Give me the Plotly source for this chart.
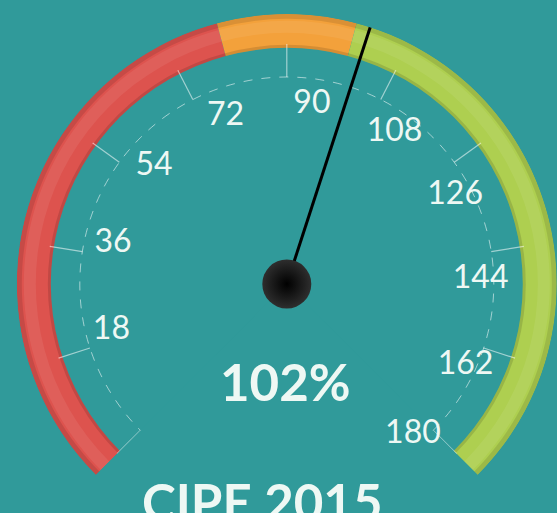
import plotly.graph_objects as go

# ---- data ----
scale_min = 0
scale_max = 180
tick_values = [0, 18, 36, 54, 72, 90, 108, 126, 144, 162, 180]
label_values = [18, 36, 54, 72, 90, 108, 126, 144, 162, 180]
band_starts = [0, 80, 100]
band_ends = [80, 100, 180]
band_colors = ["#dd534e", "#f3a13b", "#aecf50"]
needle_value = 102
title_text = "CIPE 2015"

# ---- geometry / style ----
SWEEP = 270.0
DEG_PER_UNIT = SWEEP / (scale_max - scale_min)
R_MAX = 270          # outer radius of the ring (px == radial unit)
BAND_IN = 236        # inner radius of ring
SCALE_R = 207        # dashed scale arc
TICK_OUT = 240
LABEL_R = 187
LABEL_SHIFT_DEG = 5.5
R2 = 210             # radial range of the label layer
BG = "#309a9a"
TXT = "#eef8f4"
FONT = "Lato, 'Open Sans', sans-serif"

W, H = 557, 513
cx, cy = 286.8, 284          # gauge centre (px)
lx, ly = 294, 291            # label-ring centre (px)


def th(v):
    return (v - scale_min) * DEG_PER_UNIT


centers = [th((a + b) / 2) for a, b in zip(band_starts, band_ends)]
widths = [th(b) - th(a) for a, b in zip(band_starts, band_ends)]

fig = go.Figure()

# tick marks (from the dashed arc outward, under the ring)
tick_r, tick_t = [], []
for v in tick_values:
    tick_r += [SCALE_R, TICK_OUT, None]
    tick_t += [th(v), th(v), None]
fig.add_trace(go.Scatterpolar(
    r=tick_r, theta=tick_t, mode="lines",
    line=dict(color="rgba(255,255,255,0.55)", width=1.2),
    hoverinfo="skip", showlegend=False, cliponaxis=False,
))

# colour bands
fig.add_trace(go.Barpolar(
    theta=centers, width=widths,
    r=[R_MAX - BAND_IN] * len(band_starts), base=[BAND_IN] * len(band_starts),
    marker=dict(color=band_colors, line=dict(width=0)),
    hoverinfo="skip", showlegend=False,
))
# subtle shading: darker outer edge, inner shadow, soft highlight
fig.add_trace(go.Barpolar(
    theta=centers, width=widths,
    r=[5] * len(band_starts), base=[R_MAX - 5] * len(band_starts),
    marker=dict(color="rgba(0,0,0,0.10)", line=dict(width=0)),
    hoverinfo="skip", showlegend=False,
))
fig.add_trace(go.Barpolar(
    theta=centers, width=widths,
    r=[3] * len(band_starts), base=[BAND_IN] * len(band_starts),
    marker=dict(color="rgba(0,0,0,0.12)", line=dict(width=0)),
    hoverinfo="skip", showlegend=False,
))
fig.add_trace(go.Barpolar(
    theta=centers, width=widths,
    r=[12] * len(band_starts), base=[R_MAX - 19] * len(band_starts),
    marker=dict(color="rgba(255,255,255,0.07)", line=dict(width=0)),
    hoverinfo="skip", showlegend=False,
))

# needle
fig.add_trace(go.Scatterpolar(
    r=[0, 282], theta=[th(needle_value), th(needle_value)],
    mode="lines", line=dict(color="#000000", width=3),
    hoverinfo="skip", showlegend=False, cliponaxis=False,
))
# hub
fig.add_trace(go.Scatterpolar(
    r=[0], theta=[0], mode="markers",
    marker=dict(size=49, color="#2e2e2e",
                gradient=dict(type="radial", color="#000000"),
                line=dict(width=0)),
    hoverinfo="skip", showlegend=False, cliponaxis=False,
))

# tick labels on a full-circle layer
fig.add_trace(go.Scatterpolar(
    r=[LABEL_R] * len(label_values),
    theta=[th(v) + LABEL_SHIFT_DEG for v in label_values],
    mode="text", text=[str(v) for v in label_values],
    textfont=dict(family=FONT, size=32, color=TXT),
    hoverinfo="skip", showlegend=False, cliponaxis=False,
    subplot="polar2",
))

ytop = cy - R_MAX
ybot = cy + R_MAX * 0.70710678
hidden_axis = dict(showticklabels=False, ticks="", showgrid=False, showline=False)

fig.update_layout(
    width=W, height=H,
    margin=dict(l=0, r=0, t=0, b=0),
    paper_bgcolor=BG, plot_bgcolor=BG,
    polar=dict(
        domain=dict(x=[(cx - R_MAX) / W, min(1.0, (cx + R_MAX) / W)],
                    y=[(H - ybot) / H, (H - ytop) / H]),
        sector=[-45, 225],
        bgcolor=BG,
        radialaxis=dict(range=[0, R_MAX], tickvals=[SCALE_R], showticklabels=False,
                        showline=False, ticks="", showgrid=True,
                        gridcolor="rgba(255,255,255,0.55)", gridwidth=1, griddash="dash",
                        layer="below traces"),
        angularaxis=dict(rotation=225, direction="clockwise", thetaunit="degrees",
                         showticklabels=False, ticks="", showgrid=False, showline=False),
    ),
    polar2=dict(
        domain=dict(x=[(lx - R2) / W, (lx + R2) / W],
                    y=[(H - (ly + R2)) / H, (H - (ly - R2)) / H]),
        bgcolor="rgba(0,0,0,0)",
        radialaxis=dict(range=[0, R2], **hidden_axis),
        angularaxis=dict(rotation=225, direction="clockwise", thetaunit="degrees",
                         **hidden_axis),
    ),
    font=dict(family=FONT, color=TXT),
    annotations=[
        dict(text=f"<b>{needle_value}%</b>", x=(cx - 1) / W, y=(H - 381) / H,
             xref="paper", yref="paper", showarrow=False,
             font=dict(size=51, color=TXT, family=FONT),
             xanchor="center", yanchor="middle"),
        dict(text=f"<b>{title_text}</b>", x=262 / W, y=(H - 501) / H,
             xref="paper", yref="paper", showarrow=False,
             font=dict(size=51, color=TXT, family=FONT),
             xanchor="center", yanchor="middle"),
    ],
)

fig.write_html(
    "out.html",
    config={"displayModeBar": False},
    post_script="document.body.style.margin='0';document.body.style.overflow='hidden';"
                "document.body.style.background='%s';" % BG,
)
